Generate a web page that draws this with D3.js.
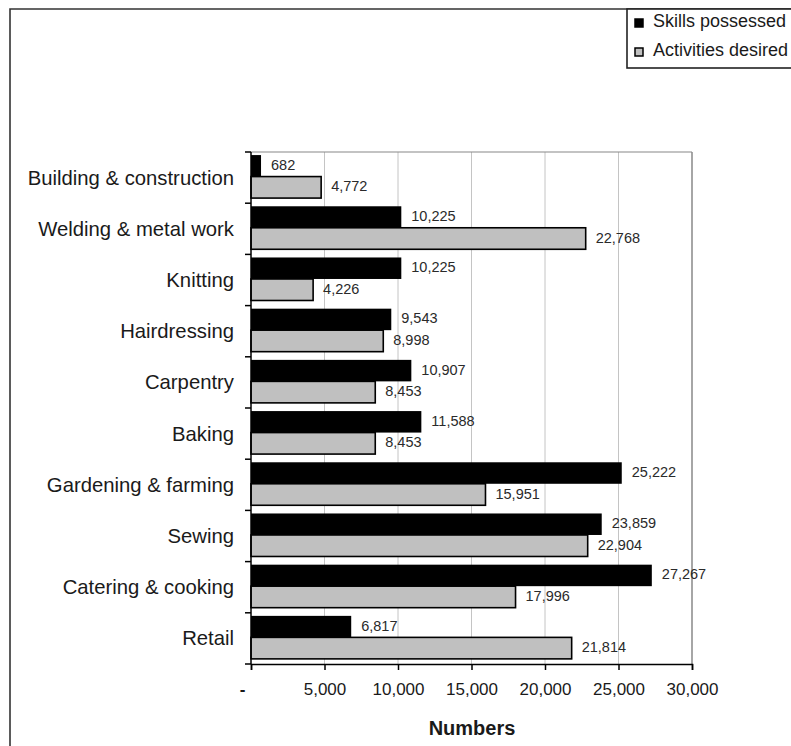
<!DOCTYPE html>
<html lang="en">
<head>
    <meta charset="UTF-8">
    <title>Skills possessed and activities desired</title>
    <script src="https://d3js.org/d3.v7.min.js"></script>
    <style>
        body, html {
            margin: 0;
            padding: 0;
            background: #ffffff;
            overflow: hidden;
        }
        text {
            font-family: "Liberation Sans", Arial, sans-serif;
        }
    </style>
</head>
<body>
    <div id="chart"></div>

    <script>
    const categories = [
        "Building & construction",
        "Welding & metal work",
        "Knitting",
        "Hairdressing",
        "Carpentry",
        "Baking",
        "Gardening & farming",
        "Sewing",
        "Catering & cooking",
        "Retail"
    ];
    const seriesNames = ["Skills possessed", "Activities desired"];
    const skillsPossessed = [682, 10225, 10225, 9543, 10907, 11588, 25222, 23859, 27267, 6817];
    const activitiesDesired = [4772, 22768, 4226, 8998, 8453, 8453, 15951, 22904, 17996, 21814];
    const xTicks = [0, 5000, 10000, 15000, 20000, 25000, 30000];

    (function() {
        const width = 791;
        const height = 746;
        const plot = {left: 251, right: 692, top: 152, bottom: 664};
        const fills = {"Skills possessed": "#000000", "Activities desired": "#c0c0c0"};

        const rows = categories.map((c, i) => ({
            category: c,
            values: [
                {series: seriesNames[0], value: skillsPossessed[i]},
                {series: seriesNames[1], value: activitiesDesired[i]}
            ]
        }));

        const svg = d3.select("#chart")
            .append("svg")
            .attr("width", width)
            .attr("height", height);

        const x = d3.scaleLinear()
            .domain([0, 30000])
            .range([plot.left, plot.right]);

        const y = d3.scaleBand()
            .domain(categories)
            .range([plot.top, plot.bottom])
            .padding(0);

        // two bars per category, small gap above and below
        const ySub = d3.scaleBand()
            .domain(seriesNames)
            .range([y.bandwidth() * 0.06, y.bandwidth() * 0.9])
            .padding(0);

        // outer frame
        svg.append("path")
            .attr("d", `M10,${height} L10,9 L${width},9`)
            .attr("fill", "none")
            .attr("stroke", "#333")
            .attr("stroke-width", 1.6);

        // gridlines + plot border
        svg.append("g")
            .selectAll("line")
            .data(xTicks.slice(1))
            .enter().append("line")
            .attr("x1", d => x(d))
            .attr("x2", d => x(d))
            .attr("y1", plot.top)
            .attr("y2", plot.bottom)
            .attr("stroke", d => d === 30000 ? "#888" : "#c4c4c4")
            .attr("stroke-width", d => d === 30000 ? 1.5 : 1);

        svg.append("line")
            .attr("x1", plot.left)
            .attr("x2", plot.right)
            .attr("y1", plot.top)
            .attr("y2", plot.top)
            .attr("stroke", "#888")
            .attr("stroke-width", 1.2);

        // bars
        const group = svg.append("g")
            .selectAll("g")
            .data(rows)
            .enter().append("g")
            .attr("transform", d => `translate(0,${y(d.category)})`);

        group.selectAll("rect")
            .data(d => d.values)
            .enter().append("rect")
            .attr("x", x(0))
            .attr("y", d => ySub(d.series))
            .attr("width", d => x(d.value) - x(0))
            .attr("height", ySub.bandwidth())
            .attr("fill", d => fills[d.series])
            .attr("stroke", "#000")
            .attr("stroke-width", d => d.series === seriesNames[1] ? 1.6 : 0);

        group.selectAll("text")
            .data(d => d.values)
            .enter().append("text")
            .attr("x", d => x(d.value) + 10)
            .attr("y", d => ySub(d.series) + ySub.bandwidth() / 2 - 1)
            .attr("dominant-baseline", "central")
            .attr("font-size", 14.5)
            .attr("fill", "#2a2a2a")
            .text(d => d3.format(",")(d.value));

        // y axis
        svg.append("line")
            .attr("x1", plot.left)
            .attr("x2", plot.left)
            .attr("y1", plot.top)
            .attr("y2", plot.bottom)
            .attr("stroke", "#000")
            .attr("stroke-width", 1.5);

        svg.append("g")
            .selectAll("line")
            .data(categories.map(c => y(c)).concat([plot.bottom]))
            .enter().append("line")
            .attr("x1", plot.left - 6)
            .attr("x2", plot.left)
            .attr("y1", d => d)
            .attr("y2", d => d)
            .attr("stroke", "#000")
            .attr("stroke-width", 1.5);

        svg.append("g")
            .selectAll("text")
            .data(categories)
            .enter().append("text")
            .attr("x", 234)
            .attr("y", d => y(d) + y.bandwidth() / 2)
            .attr("dominant-baseline", "central")
            .attr("text-anchor", "end")
            .attr("font-size", 20.3)
            .attr("fill", "#1a1a1a")
            .text(d => d);

        // x axis
        const xAxis = svg.append("g")
            .attr("transform", `translate(0,${plot.bottom})`)
            .call(d3.axisBottom(x)
                .tickValues(xTicks)
                .tickSize(6)
                .tickPadding(13)
                .tickFormat(d => d === 0 ? "-" : d3.format(",")(d)));

        xAxis.select(".domain")
            .attr("stroke", "#000")
            .attr("stroke-width", 1.5);
        xAxis.selectAll(".tick line")
            .attr("stroke", "#000")
            .attr("stroke-width", 1.5);
        xAxis.selectAll(".tick text")
            .attr("font-family", "Liberation Sans, Arial, sans-serif")
            .attr("font-size", 17)
            .attr("fill", "#1a1a1a")
            .attr("dx", d => d === 0 ? -9 : 0)
            .attr("font-weight", d => d === 0 ? "bold" : "normal");

        svg.append("text")
            .attr("x", 472)
            .attr("y", 735)
            .attr("text-anchor", "middle")
            .attr("font-size", 20)
            .attr("font-weight", "bold")
            .attr("fill", "#1a1a1a")
            .text("Numbers");

        // legend
        svg.append("rect")
            .attr("x", 627)
            .attr("y", 9)
            .attr("width", 200)
            .attr("height", 59)
            .attr("fill", "#fff")
            .attr("stroke", "#222")
            .attr("stroke-width", 1.6);

        const legend = svg.append("g")
            .selectAll("g")
            .data(seriesNames)
            .enter().append("g")
            .attr("transform", (d, i) => `translate(635,${19 + i * 29})`);

        legend.append("rect")
            .attr("width", 8)
            .attr("height", 8)
            .attr("fill", d => fills[d])
            .attr("stroke", "#000")
            .attr("stroke-width", 1.5);

        legend.append("text")
            .attr("x", 18)
            .attr("y", 8)
            .attr("font-size", 18)
            .attr("fill", "#1a1a1a")
            .text(d => d);
    })();
    </script>
</body>
</html>
